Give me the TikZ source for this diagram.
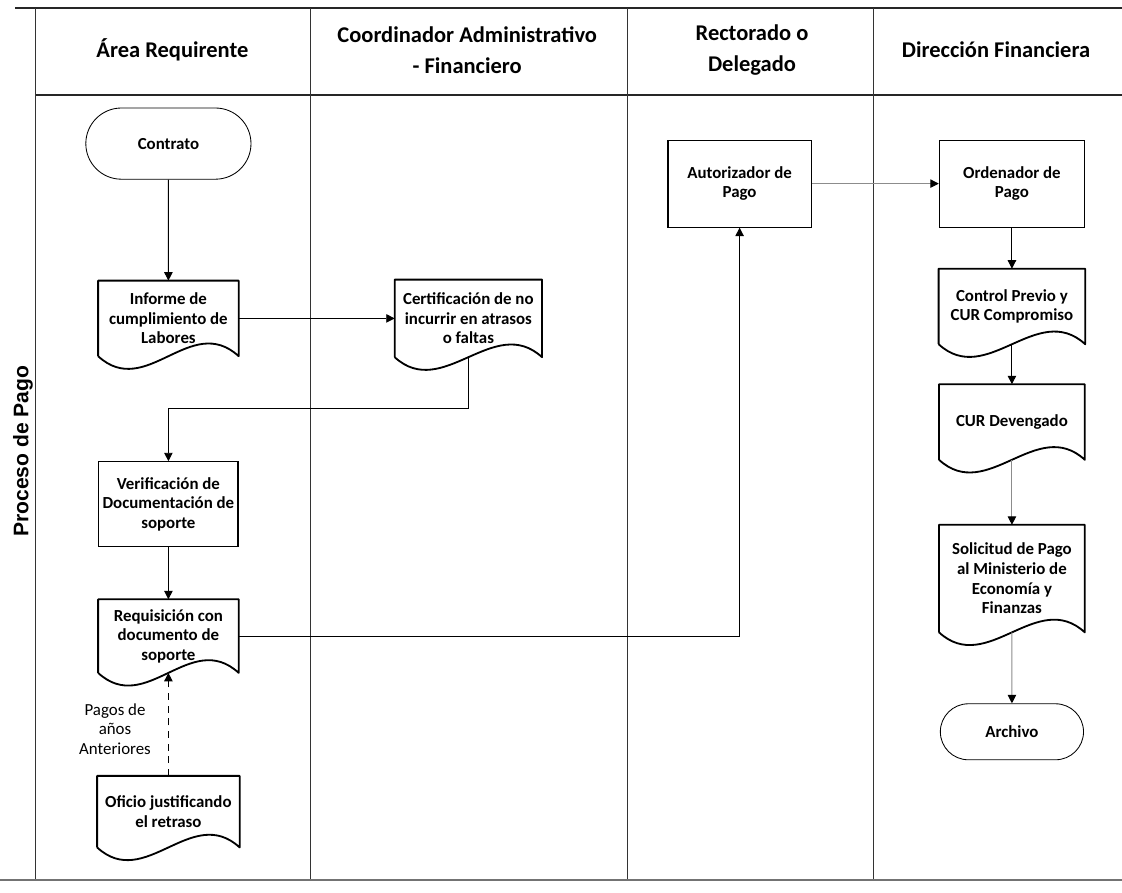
\documentclass[tikz,border=0pt]{standalone}
\usepackage{fontspec}
\setmainfont{Carlito}
\newfontfamily\sidefont{Liberation Sans}
\usetikzlibrary{shapes,arrows.meta}
\usetikzlibrary{positioning}

\begin{document}
\begin{tikzpicture}
\tikzset{
frame/.style={draw=black!85, line width=1.2pt},
lane/.style={draw=black!80, line width=0.7pt},
header/.style={font=\fontsize{16}{22}\selectfont\bfseries, align=center},
boxfont/.style={font=\fontsize{12}{14}\selectfont\bfseries, align=center, inner sep=1pt},
terminal/.style={boxfont, rounded rectangle, draw, line width=0.6pt},
process/.style={boxfont, rectangle, draw, line width=0.8pt},
docu/.style={boxfont, rectangle},
docline/.style={draw, line width=1.3pt, line join=round},
>={Triangle[length=6pt,width=6pt,color=black]},
flow/.style={draw, line width=0.7pt, ->},
flowlight/.style={flow, draw=black!45}
}
\useasboundingbox (0,0) rectangle (28.05,-22.3);

% lanes
\draw[frame] (0.375,-0.2) -- (28.05,-0.2);
\draw[frame] (0.875,-2.375) -- (28.05,-2.375);
\draw[lane] (0.875,-0.2) -- (0.875,-22);
\foreach \x in {7.75,15.675,21.825}
  \draw[lane] (\x,-0.2) -- (\x,-22);
\draw[draw=black!55, line width=1.4pt] (0,-22) -- (28.05,-22);

\node[header] (hreq) at (4.31,-1.25) {Área Requirente};
\node[header] (hcoord) at (11.68,-1.25) {Coordinador Administrativo\\- Financiero};
\node[header] (hrect) at (18.8,-1.25) {Rectorado o\\Delegado};
\node[header] (hdir) at (24.9,-1.25) {Dirección Financiera};
\node[rotate=90, font=\sidefont\fontsize{15}{18}\selectfont\bfseries] (proc) at (0.575,-11.28) {Proceso de Pago};

% area requirente
\node[terminal, minimum width=4.2cm, minimum height=1.78cm] (contrato) at (4.21,-3.59) {Contrato};
\node[docu, minimum width=3.5cm, minimum height=1.875cm, below=2.525cm of contrato] (informe) {Informe de\\cumplimiento de\\Labores};
\node[docu, minimum width=3.67cm, minimum height=1.925cm, right=3.9cm of informe] (cert) {Certificación de no\\incurrir en atrasos\\o faltas};
\node[process, minimum width=3.48cm, minimum height=2.125cm, below=2.625cm of informe] (verif) {Verificación de\\Documentación de\\soporte};
\node[docu, minimum width=3.5cm, minimum height=1.825cm, below=1.3cm of verif] (req) {Requisición con\\documento de\\soporte};
\node[docu, minimum width=3.55cm, minimum height=1.775cm, below=2.575cm of req] (oficio) {Oficio justificando\\el retraso};
\node[boxfont, font=\fontsize{12}{14}\selectfont] (pagos) at (2.875,-18.225) {Pagos de\\años\\Anteriores};

% rectorado y direccion
\node[process, minimum width=3.58cm, minimum height=2.175cm] (autor) at (18.49,-4.59) {Autorizador de\\Pago};
\node[process, minimum width=3.63cm, minimum height=2.175cm, right=3.175cm of autor] (orden) {Ordenador de\\Pago};
\node[docu, minimum width=3.65cm, minimum height=1.875cm, below=1.025cm of orden] (control) {Control Previo y\\CUR Compromiso};
\node[docu, minimum width=3.63cm, minimum height=1.875cm, below=1cm of control] (deveng) {CUR Devengado};
\node[docu, minimum width=3.63cm, minimum height=2.675cm, below=1.625cm of deveng] (solic) {Solicitud de Pago\\al Ministerio de\\Economía y\\Finanzas};
\node[terminal, minimum width=3.65cm, minimum height=1.4cm, below=1.775cm of solic] (archivo) {Archivo};

% document outlines
\foreach \d in {informe,cert,req,oficio,control,deveng,solic}
  \draw[docline] (\d.south west) -- (\d.north west) -- (\d.north east) -- (\d.south east)
    .. controls +(-1.2,1.1) and +(1.2,-1.1) .. (\d.south west);

\draw[flow] (contrato) -- (informe);
\draw[flow] (informe) -- (cert);
\draw[flow] (cert.south) -- ++(0,-1.275) -| (verif.north);
\draw[flow] (verif) -- (req);
\draw[flow] (req.east) -| (autor.south);
\draw[flowlight] (autor) -- (orden);
\draw[flow] (orden) -- (control);
\draw[flow] (control.south) -- (deveng);
\draw[flowlight] (deveng.south) -- (solic);
\draw[flowlight] (solic.south) -- (archivo);
\draw[flow, dash pattern=on 5pt off 4pt] (oficio.north) -- (req.south);
\end{tikzpicture}
\end{document}
